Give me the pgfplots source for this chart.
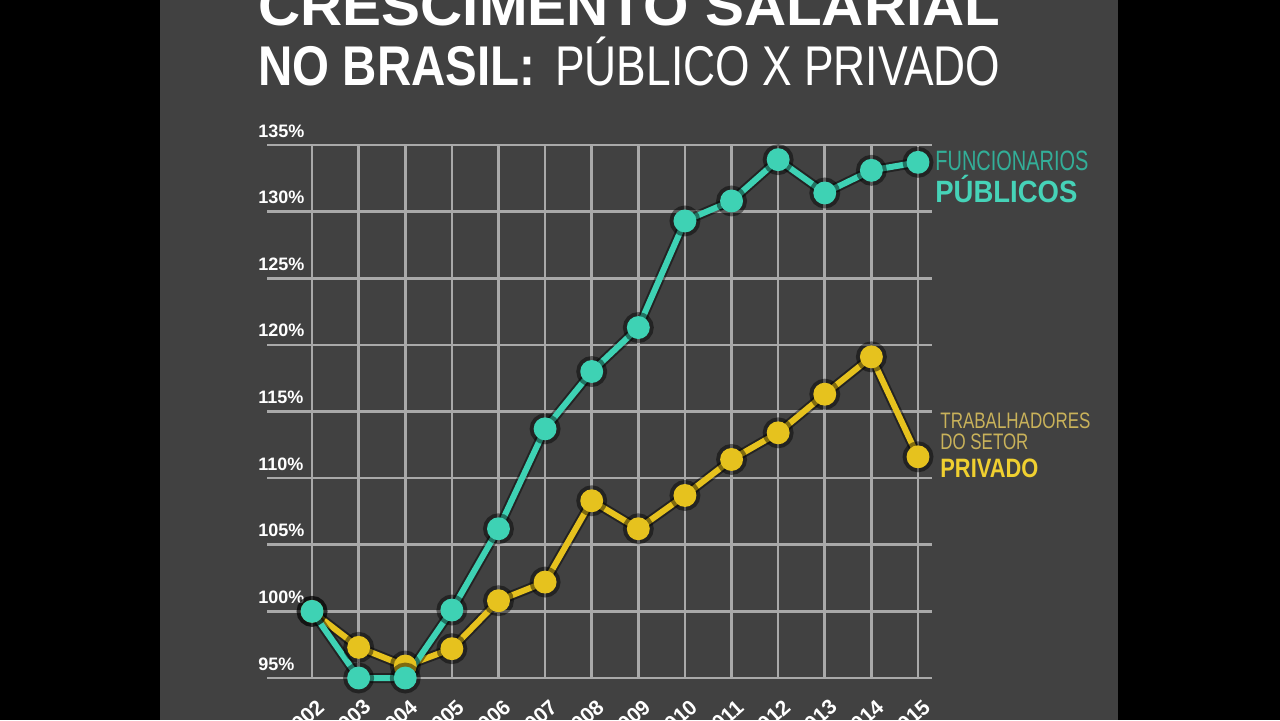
\documentclass[border=0pt]{standalone}
\usepackage{fontspec}
\setmainfont{Liberation Sans}
\usepackage{graphicx}
\usepackage{pgfplots}
\pgfplotsset{compat=1.18}
\definecolor{bg}{HTML}{414141}
\definecolor{gridc}{HTML}{A9A9A9}
\definecolor{teal}{HTML}{3ED2B4}
\definecolor{tealtxt}{HTML}{33AE98}
\definecolor{tealbold}{HTML}{46D3B8}
\definecolor{gold}{HTML}{E6C21E}
\definecolor{goldtxt}{HTML}{C9B25A}
\definecolor{goldbold}{HTML}{F0D030}
\pgfplotstableread{
year pub priv
2002 100.0 100.0
2003 95.0 97.3
2004 95.0 95.9
2005 100.1 97.2
2006 106.2 100.8
2007 113.7 102.2
2008 118.0 108.3
2009 121.3 106.2
2010 129.3 108.7
2011 130.8 111.4
2012 133.9 113.4
2013 131.4 116.3
2014 133.1 119.1
2015 133.7 111.6
}\datatable
\begin{document}
\begin{tikzpicture}
\useasboundingbox (0,0) rectangle (640pt,360pt);
\fill[black] (0,0) rectangle (640pt,360pt);
\fill[bg] (80pt,0) rectangle (559pt,360pt);
\begin{scope}
\clip (0,0) rectangle (640pt,360pt);
\begin{axis}[
  at={(133.5pt,21pt)}, anchor=south west,
  scale only axis, width=332.5pt, height=266.5pt,
  xmin=2001.034, xmax=2015.3, ymin=95, ymax=135,
  axis line style={draw=none},
  major tick length=0pt,
  xtick={2002,2003,2004,2005,2006,2007,2008,2009,2010,2011,2012,2013,2014,2015},
  xticklabels={2002,2003,2004,2005,2006,2007,2008,2009,2010,2011,2012,2013,2014,2015},
  ytick={95,100,105,110,115,120,125,130,135},
  yticklabels={95\%,100\%,105\%,110\%,115\%,120\%,125\%,130\%,135\%},
  grid=major,
  major grid style={gridc, line width=1.3pt},
  clip=false,
  yticklabel style={anchor=base west, inner sep=0pt, xshift=-4.5pt, yshift=4pt,
    font=\bfseries\fontsize{9}{9}\selectfont, text=white},
  xticklabel style={rotate=42, anchor=east, inner sep=0pt, xshift=-5.2pt, yshift=-12.5pt,
    font=\bfseries\fontsize{10.5}{10.5}\selectfont, text=white},
]
\addplot[black, opacity=0.45, line width=5pt, mark=*, mark size=5.2pt] table[x=year,y=priv]{\datatable};
\addplot[gold, line width=3pt, mark=*, mark size=4.2pt, mark options={fill=gold, draw=gold}] table[x=year,y=priv]{\datatable};
\addplot[black, opacity=0.45, line width=5pt, mark=*, mark size=5.2pt] table[x=year,y=pub]{\datatable};
\addplot[teal, line width=3pt, mark=*, mark size=4.2pt, mark options={fill=teal, draw=teal}] table[x=year,y=pub]{\datatable};
\end{axis}
\node[anchor=base west, inner sep=0pt, text=white] at (129pt,347.5pt)
  {\resizebox{371pt}{\height}{\fontsize{28}{28}\selectfont\bfseries CRESCIMENTO SALARIAL}};
\node[anchor=base west, inner sep=0pt, text=white] at (129pt,317.5pt)
  {\resizebox{138.5pt}{\height}{\fontsize{28}{28}\selectfont\bfseries NO BRASIL:}};
\node[anchor=base west, inner sep=0pt, text=white] at (277.5pt,317.5pt)
  {\resizebox{222.5pt}{\height}{\fontsize{28}{28}\selectfont PÚBLICO X PRIVADO}};
\end{scope}
\node[anchor=base west, inner sep=0pt, text=tealtxt] at (467.5pt,275pt)
  {\resizebox{76.5pt}{\height}{\fontsize{14}{14}\selectfont FUNCIONARIOS}};
\node[anchor=base west, inner sep=0pt, text=tealbold] at (467.5pt,259pt)
  {\resizebox{71pt}{\height}{\fontsize{15.4}{15.4}\selectfont\bfseries PÚBLICOS}};
\node[anchor=base west, inner sep=0pt, text=goldtxt] at (470pt,146pt)
  {\resizebox{75pt}{\height}{\fontsize{11.2}{11.2}\selectfont TRABALHADORES}};
\node[anchor=base west, inner sep=0pt, text=goldtxt] at (470pt,135.5pt)
  {\resizebox{44pt}{\height}{\fontsize{11.2}{11.2}\selectfont DO SETOR}};
\node[anchor=base west, inner sep=0pt, text=goldbold] at (470pt,121.5pt)
  {\resizebox{49pt}{\height}{\fontsize{13.3}{13.3}\selectfont\bfseries PRIVADO}};
\end{tikzpicture}
\end{document}
